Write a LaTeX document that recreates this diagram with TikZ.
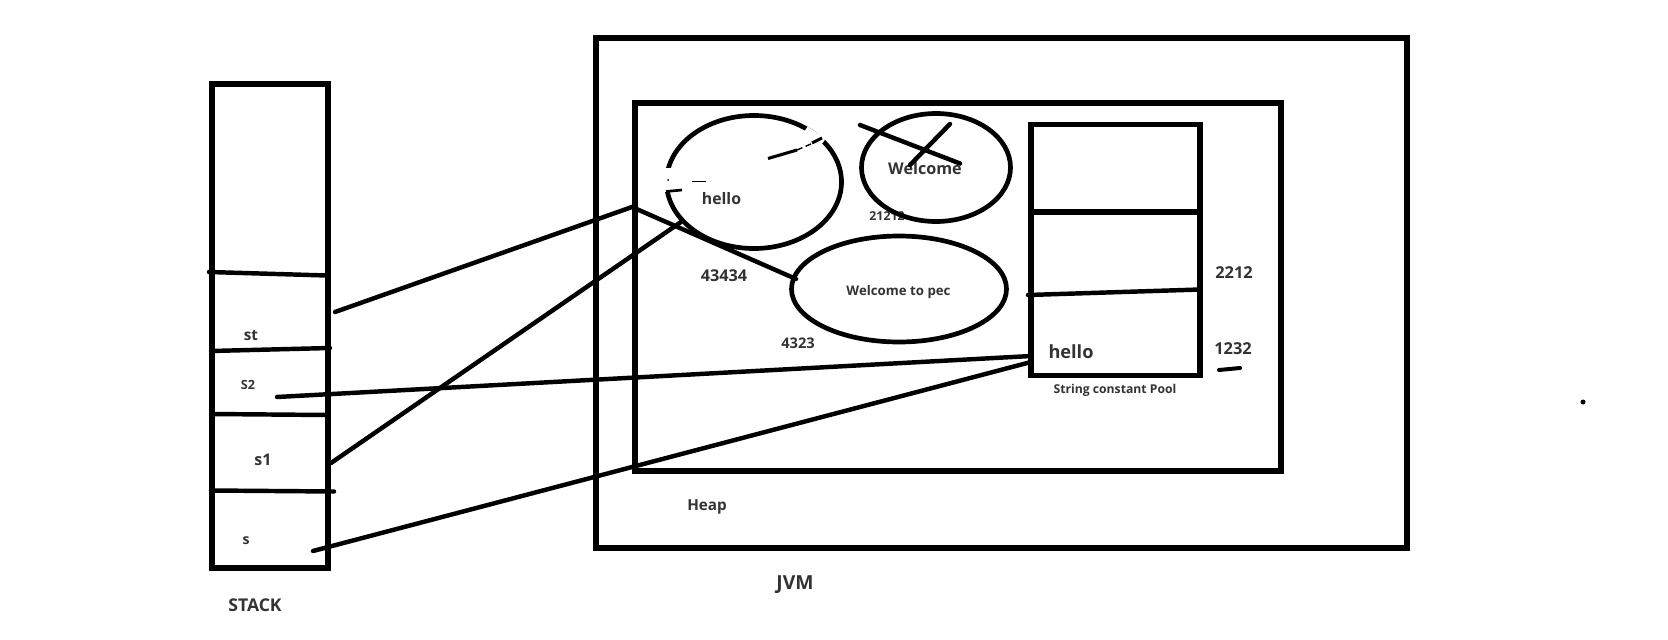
\documentclass[tikz,border=0pt]{standalone}
\usepackage{fontspec}
\setmainfont{Open Sans}
\usetikzlibrary{shapes.geometric}
\definecolor{txt}{HTML}{333333}
\newcommand{\fs}[1]{\fontsize{#1}{#1}\selectfont}
\begin{document}
\begin{tikzpicture}[x=0.03cm,y=-0.03cm,
  box/.style={draw=black,line width=4.3pt},
  wire/.style={draw=black,line width=3.8pt,line cap=round},
  lbl/.style={text=txt,inner sep=0pt,font=\bfseries},
  oval/.style={draw=black,line width=4pt,ellipse,inner sep=0pt}]
\useasboundingbox (0,0) rectangle (1668,639);
\fill[white] (0,0) rectangle (1668,639);

% JVM and Heap
\draw[box] (596,38) rectangle (1407,548);
\draw[box] (635,103) rectangle (1281,471);

% Stack
\draw[box] (212,84) rectangle (328,568);
\draw[wire] (209,272) -- (327,275.5);
\draw[wire] (211,351) -- (330,348);
\draw[wire] (211,414) -- (328,415);
\draw[wire] (211,490.5) -- (334,491.5);

% String constant pool
\draw[box] (1031,124.5) rectangle (1200,375.5);
\draw[box] (1031,212) -- (1200,212);
\draw[wire] (1028,295) -- (1200,289.5);

% labels
\node[lbl,font=\bfseries\fs{13}] (lst) at (251,336) {st};
\node[lbl,font=\bfseries\fs{10.8}] (ls2) at (248,385) {S2};
\node[lbl,font=\bfseries\fs{13.7}] (ls1) at (263,460) {s1};
\node[lbl,font=\bfseries\fs{12}] (ls) at (246,541) {s};
\node[lbl,font=\bfseries\fs{15}] (lstack) at (255,605) {STACK};
\node[lbl,font=\bfseries\fs{16.5}] (ljvm) at (795,585) {JVM};
\node[lbl,font=\bfseries\fs{13}] (lheap) at (707,507) {Heap};
\node[lbl,font=\bfseries\fs{15.5}] (lphello) at (1071,352) {hello};
\node[lbl,font=\bfseries\fs{14}] (l2212) at (1234,273) {2212};
\node[lbl,font=\bfseries\fs{14}] (l1232) at (1233,349) {1232};
\node[lbl,font=\bfseries\fs{10.4}] (lpool) at (1115,390.5) {String constant Pool};
\node[lbl,font=\bfseries\fs{13.9}] (l43434) at (724,276) {43434};
\node[lbl,font=\bfseries\fs{12.5}] (l4323) at (798,343) {4323};
\node[lbl,font=\bfseries\fs{10.5}] (l21212) at (887,216.5) {21212};
\node[lbl,font=\bfseries\fs{13.5}] (lhhello) at (721.5,199) {hello};
\node[lbl,font=\bfseries\fs{13.8}] (lwel) at (925,168) {Welcome};
\node[lbl,font=\bfseries\fs{11.3}] (lpec) at (898.5,292) {Welcome to pec};

% objects in heap
\node[oval,minimum width={175*0.03cm},minimum height={133*0.03cm}] (ehello) at (754,182) {};
\node[oval,minimum width={149*0.03cm},minimum height={108*0.03cm}] (ewel) at (936,167.5) {};
\node[oval,minimum width={215*0.03cm},minimum height={106*0.03cm}] (epec) at (899,289) {};

% erased parts of the hello ellipse
\draw[white,line width=5pt] (806,129) -- (824,141);
\fill[white] (662,168) rectangle (673,192);
\draw[black,line width=2.6pt] (768,158.5) -- (797,150);
\draw[black,line width=1.2pt,dash pattern=on 5pt off 3pt] (797,150) -- (812,143.5);
\draw[black,line width=2.6pt] (812,143) -- (822,138);
\draw[black,line width=1.5pt] (692,181.5) -- (706,181.5);
\fill (668,180) circle (1);
\draw[black,line width=2.3pt] (666,191.5) -- (682,190);

% crossing out of Welcome
\draw[wire] (860,125) -- (960,163.5);
\draw[wire] (950,124) -- (910,165);

% connectors
\coordinate (cst) at (335,312);
\coordinate (cbend) at (632,207);
\coordinate (cpec) at (796,279);
\coordinate (cs1) at (331,463);
\coordinate (chello) at (681,222);
\coordinate (cs2) at (277,397);
\coordinate (cpool1) at (1031,356);
\coordinate (cs) at (313,551);
\coordinate (cpool2) at (1031,362);
\draw[wire] (cst) -- (cbend) -- (cpec);
\draw[wire] (cs1) -- (chello);
\draw[wire] (cs2) -- (cpool1);
\draw[wire] (cs) -- (cpool2);

% stray marks
\coordinate (da) at (1219,370);
\coordinate (db) at (1240,368);
\draw[wire,line width=3.4pt] (da) -- (db);
\fill (1583,402) circle (2.5);
\end{tikzpicture}
\end{document}
